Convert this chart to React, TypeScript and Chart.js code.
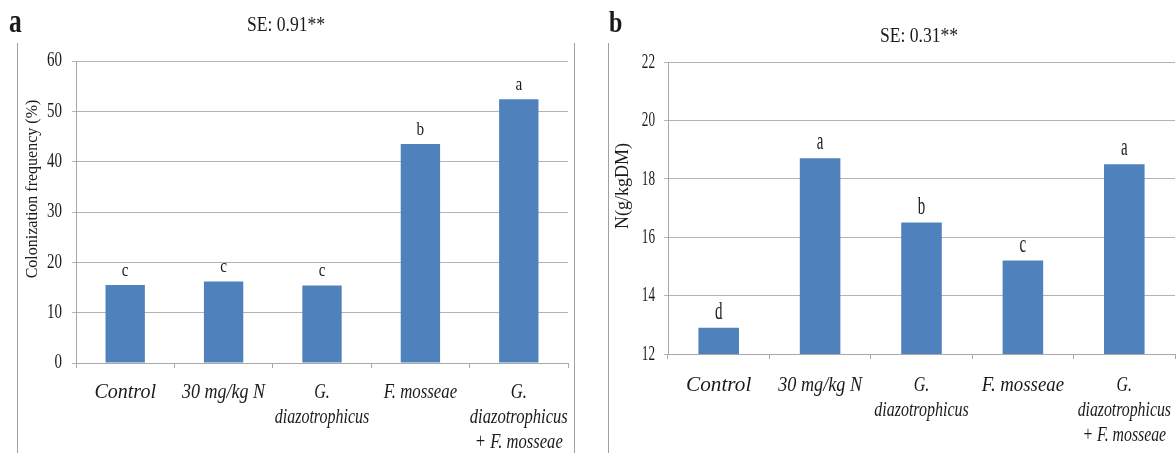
import React, { useEffect, useRef } from 'react';
import { Chart, registerables } from 'chart.js';

Chart.register(...registerables);

// ---------- data ----------
const categories: string[][] = [
  ['Control'],
  ['30 mg/kg N'],
  ['G.', 'diazotrophicus'],
  ['F. mosseae'],
  ['G.', 'diazotrophicus', '+ F. mosseae'],
];

const colonization = [15.5, 16.2, 15.4, 43.5, 52.4];
const colonizationLetters = ['c', 'c', 'c', 'b', 'a'];
const colonizationTicks = [0, 10, 20, 30, 40, 50, 60];
const colonizationTitle = 'Colonization frequency (%)';
const colonizationSE = 'SE: 0.91**';

const nitrogen = [12.9, 18.7, 16.5, 15.2, 18.5];
const nitrogenLetters = ['d', 'a', 'b', 'c', 'a'];
const nitrogenTicks = [12, 14, 16, 18, 20, 22];
const nitrogenTitle = 'N(g/kgDM)';
const nitrogenSE = 'SE: 0.31**';

const panelLetters = ['a', 'b'];

// ---------- drawing helpers ----------
const SERIF = '"Liberation Serif", "Times New Roman", serif';
const TEXT = '#1a1a1a';

function drawText(
  ctx: CanvasRenderingContext2D,
  text: string,
  x: number,
  y: number,
  font: string,
  sx: number,
  align: CanvasTextAlign,
  baseline: CanvasTextBaseline,
  rotate = 0
) {
  ctx.save();
  ctx.font = font;
  ctx.fillStyle = TEXT;
  ctx.textAlign = align;
  ctx.textBaseline = baseline;
  ctx.translate(x, y);
  if (rotate) ctx.rotate(rotate);
  ctx.scale(sx, 1);
  ctx.fillText(text, 0, 0);
  ctx.restore();
}

const decorPlugin = {
  id: 'decor',
  afterDraw(chart: any, _args: any, o: any) {
    const ctx: CanvasRenderingContext2D = chart.ctx;
    const xs = chart.scales.x;
    const ys = chart.scales.y;

    // frame lines
    ctx.save();
    ctx.strokeStyle = '#a0a0a0';
    ctx.lineWidth = 1;
    for (const fx of o.frameX) {
      ctx.beginPath();
      ctx.moveTo(fx + 0.5, o.frameTop);
      ctx.lineTo(fx + 0.5, chart.height);
      ctx.stroke();
    }
    ctx.restore();

    // panel letter
    drawText(ctx, o.panel, o.panelX, o.panelY, `bold ${o.panelSize}px ${SERIF}`, o.panelSx, 'left', 'alphabetic');
    // SE caption
    drawText(ctx, o.se, o.seX, o.seY, `20px ${SERIF}`, 0.88, 'center', 'alphabetic');

    // y tick labels
    ys.ticks.forEach((t: any) => {
      const py = ys.getPixelForValue(t.value);
      drawText(ctx, String(t.value), ys.right - o.yTickGap, py, `${o.yTickSize}px ${SERIF}`, o.yTickSx, 'right', 'middle');
    });

    // y title
    drawText(ctx, o.yTitle, o.yTitleX, o.yTitleY, `${o.yTitleSize}px ${SERIF}`, 1, 'center', 'middle', -Math.PI / 2);

    // x labels
    (chart.data.labels as any[]).forEach((lab, i) => {
      const lines: string[] = Array.isArray(lab) ? lab : [lab];
      const px = xs.getPixelForValue(i);
      lines.forEach((ln, j) => {
        const sx = o.xStretch[i];
        drawText(ctx, ln, px, xs.top + o.xLabelOffset + j * 25, `italic 20px ${SERIF}`, sx, 'center', 'alphabetic');
      });
    });

    // letters above bars
    const meta = chart.getDatasetMeta(0);
    meta.data.forEach((bar: any, i: number) => {
      drawText(ctx, o.letters[i], bar.x, bar.y - 9, `${o.letterSize}px ${SERIF}`, o.letterSx, 'center', 'alphabetic');
    });
  },
};

function makeConfig(p: any) {
  const ticks: number[] = p.ticks;
  return {
    type: 'bar' as const,
    data: {
      labels: categories,
      datasets: [
        {
          data: p.values,
          backgroundColor: '#4f81bd',
          borderWidth: 0,
          categoryPercentage: 1,
          barPercentage: 0.4,
        },
      ],
    },
    plugins: [decorPlugin],
    options: {
      responsive: false,
      animation: false,
      devicePixelRatio: 1,
      layout: { padding: p.padding },
      plugins: {
        legend: { display: false },
        tooltip: { enabled: false },
        title: { display: false },
        decor: p.decor,
      },
      scales: {
        x: {
          afterFit: (s: any) => {
            s.height = p.xHeight;
          },
          grid: {
            display: true,
            drawOnChartArea: false,
            drawTicks: true,
            tickLength: 5,
            color: '#a8a8a8',
            offset: true,
          },
          border: { display: true, color: '#a8a8a8' },
          ticks: { display: false },
        },
        y: {
          min: ticks[0],
          max: ticks[ticks.length - 1],
          afterFit: (s: any) => {
            s.width = p.yWidth;
          },
          ticks: { display: false, stepSize: ticks[1] - ticks[0] },
          grid: { color: '#b4b4b4', tickLength: 4, drawTicks: true },
          border: { display: true, color: '#a8a8a8' },
        },
      },
    },
  };
}

function Panel(props: { left: number; width: number; cfg: any }) {
  const ref = useRef<HTMLCanvasElement>(null);
  useEffect(() => {
    const chart = new Chart(ref.current as HTMLCanvasElement, props.cfg);
    return () => chart.destroy();
  }, []);
  return (
    <canvas
      ref={ref}
      width={props.width}
      height={453}
      style={{ position: 'absolute', left: props.left, top: 0, width: props.width, height: 453 }}
    />
  );
}

export default function App() {
  const cfgA = makeConfig({
    values: colonization,
    ticks: colonizationTicks,
    padding: { top: 61, right: 22, left: 0, bottom: 0 },
    xHeight: 90,
    yWidth: 76,
    decor: {
      frameX: [17, 574],
      frameTop: 43,
      panel: panelLetters[0],
      panelX: 9,
      panelY: 32,
      panelSize: 34,
      panelSx: 0.75,
      se: colonizationSE,
      seX: 286,
      seY: 31,
      yTickGap: 14,
      yTickSize: 20,
      yTickSx: 0.75,
      yTitle: colonizationTitle,
      yTitleX: 33,
      yTitleY: 189,
      yTitleSize: 16,
      xLabelOffset: 35,
      xStretch: [1.0, 0.9, 0.8, 0.84, 0.83],
      letters: colonizationLetters,
      letterSize: 19,
      letterSx: 0.8,
    },
  });

  const cfgB = makeConfig({
    values: nitrogen,
    ticks: nitrogenTicks,
    padding: { top: 62, right: 1, left: 0, bottom: 0 },
    xHeight: 99,
    yWidth: 78,
    decor: {
      frameX: [18],
      frameTop: 43,
      panel: panelLetters[1],
      panelX: 19,
      panelY: 32,
      panelSize: 30,
      panelSx: 0.8,
      se: nitrogenSE,
      seX: 329,
      seY: 42,
      yTickGap: 13,
      yTickSize: 22,
      yTickSx: 0.6,
      yTitle: nitrogenTitle,
      yTitleX: 33,
      yTitleY: 186,
      yTitleSize: 18,
      xLabelOffset: 37,
      xStretch: [1.06, 0.91, 0.8, 0.94, 0.79],
      letters: nitrogenLetters,
      letterSize: 25,
      letterSx: 0.6,
    },
  });

  return (
    <div
      style={{
        position: 'fixed',
        left: 0,
        top: 0,
        width: 1176,
        height: 453,
        background: '#ffffff',
        overflow: 'hidden',
      }}
    >
      <Panel left={0} width={590} cfg={cfgA} />
      <Panel left={590} width={586} cfg={cfgB} />
    </div>
  );
}
